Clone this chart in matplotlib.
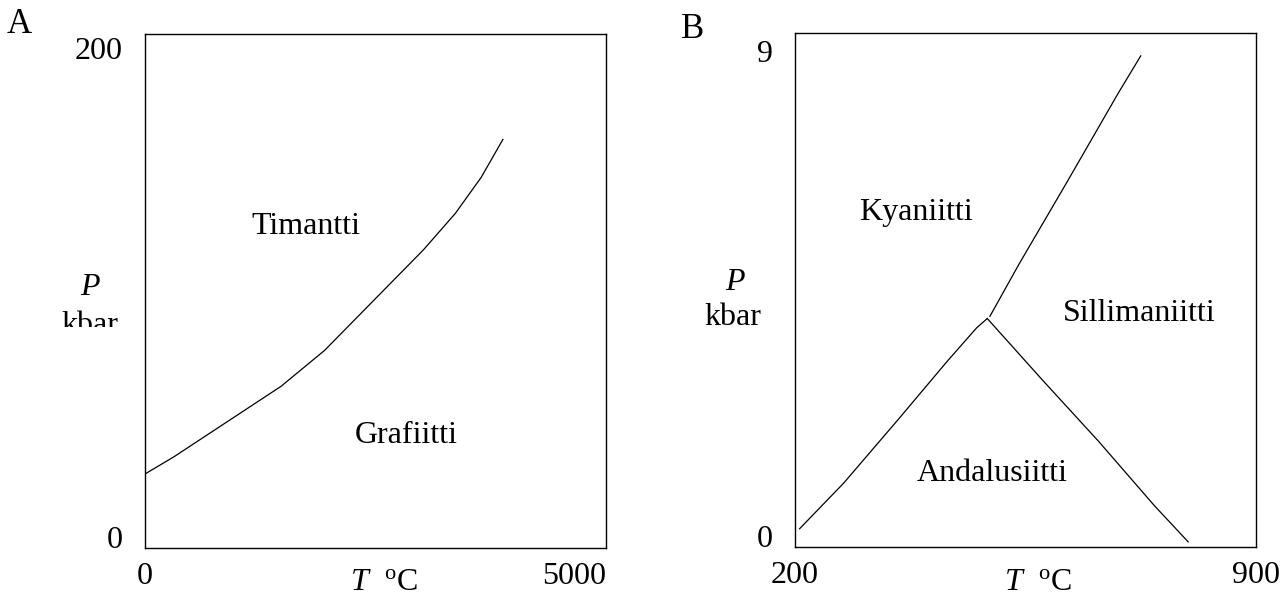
import matplotlib
matplotlib.use("Agg")
import matplotlib.pyplot as plt
from matplotlib.transforms import Bbox, TransformedBbox, ScaledTranslation

plt.rcParams["font.family"] = ["Liberation Serif", "DejaVu Serif"]
plt.rcParams["mathtext.fontset"] = "custom"
plt.rcParams["mathtext.rm"] = "Liberation Serif"
plt.rcParams["mathtext.it"] = "Liberation Serif:italic"

# panel A: diamond / graphite boundary
graphite_T = [0, 314, 1475, 1948, 3022, 3366, 3646, 3882]
graphite_P = [28.8, 35.5, 62.9, 76.9, 116.1, 130.2, 144.2, 159.0]
a_xticks = [0, 5000]
a_yticks = [0, 200]
a_phases = ["Timantti", "Grafiitti"]
a_phase_T = [1741, 2838]
a_phase_P = [125, 43.6]

# panel B: Al2SiO5 boundaries
ky_and_T = [207, 274, 358, 431, 476, 492]
ky_and_P = [0.32, 1.12, 2.25, 3.25, 3.84, 4.0]
and_sil_T = [492, 576, 661, 746, 797]
and_sil_P = [4.0, 2.92, 1.85, 0.72, 0.09]
ky_sil_T = [496, 540, 613, 691, 725]
ky_sil_P = [4.04, 4.95, 6.39, 7.95, 8.6]
b_xticks = [200, 900]
b_yticks = [0, 9]
b_phases = ["Kyaniitti", "Sillimaniitti", "Andalusiitti"]
b_phase_T = [383, 723, 499]
b_phase_P = [5.85, 4.09, 1.29]

FS = 23
W, H = 1285, 597

fig = plt.figure(figsize=(W / 100, H / 100), dpi=100)


def fx(px):
    return px / W


def fy(py):
    return (H - py) / H


def setup(ax, xlim, ylim, xticks, yticks, xha, top_shift):
    ax.set_xlim(*xlim)
    ax.set_ylim(*ylim)
    ax.set_xticks(xticks)
    ax.set_yticks(yticks)
    ax.set_xticklabels([str(v) for v in xticks])
    ax.set_yticklabels([str(v) for v in yticks])
    ax.tick_params(length=0, labelsize=FS)
    ax.tick_params(axis="x", pad=10)
    ax.tick_params(axis="y", pad=16)
    for lab, ha in zip(ax.get_xticklabels(), xha):
        lab.set_ha(ha)
    ylabs = ax.get_yticklabels()
    ylabs[0].set_va("baseline")
    ylabs[1].set_va("top")
    ylabs[1].set_transform(ylabs[1].get_transform()
                           + ScaledTranslation(0, -top_shift / 100, fig.dpi_scale_trans))
    for s in ax.spines.values():
        s.set_linewidth(1.0)


axA = fig.add_axes([fx(145), fy(548), fx(606 - 145), (548 - 34) / H])
setup(axA, (0, 5000), (0, 200), a_xticks, a_yticks, ["center", "right"], 3)
axA.plot(graphite_T, graphite_P, color="black", lw=0.9)
for name, t, p in zip(a_phases, a_phase_T, a_phase_P):
    axA.text(t, p, name, fontsize=FS, ha="center", va="center")

axB = fig.add_axes([fx(795), fy(547), fx(1256 - 795), (547 - 33) / H])
setup(axB, (200, 900), (0, 9), b_xticks, b_yticks, ["center", "center"], 7)
axB.plot(ky_and_T, ky_and_P, color="black", lw=0.9)
axB.plot(and_sil_T, and_sil_P, color="black", lw=0.9)
axB.plot(ky_sil_T, ky_sil_P, color="black", lw=0.9)
for name, t, p in zip(b_phases, b_phase_T, b_phase_P):
    axB.text(t, p, name, fontsize=FS, ha="center", va="center")

# panel letters
fig.text(fx(7), fy(33), "A", fontsize=FS + 2, ha="left", va="baseline")
fig.text(fx(681), fy(38), "B", fontsize=FS + 2, ha="left", va="baseline")

# y axis labels
fig.text(fx(90), fy(295), "P", fontsize=FS, style="italic", ha="center", va="baseline")
kbarA = fig.text(fx(90), fy(333), "kbar", fontsize=FS, ha="center", va="baseline")
kbarA.set_clip_box(TransformedBbox(Bbox([[0, fy(327)], [0.2, 1]]), fig.transFigure))
kbarA.set_clip_on(True)
fig.text(fx(735), fy(290), "P", fontsize=FS, style="italic", ha="center", va="baseline")
fig.text(fx(733), fy(325), "kbar", fontsize=FS, ha="center", va="baseline")

# x axis labels
fig.text(fx(384), fy(590), r"$T$  ${}^{\mathrm{o}}$C", fontsize=FS, ha="center", va="baseline")
fig.text(fx(1038), fy(590), r"$T$  ${}^{\mathrm{o}}$C", fontsize=FS, ha="center", va="baseline")

fig.savefig("out.png", dpi=100)
